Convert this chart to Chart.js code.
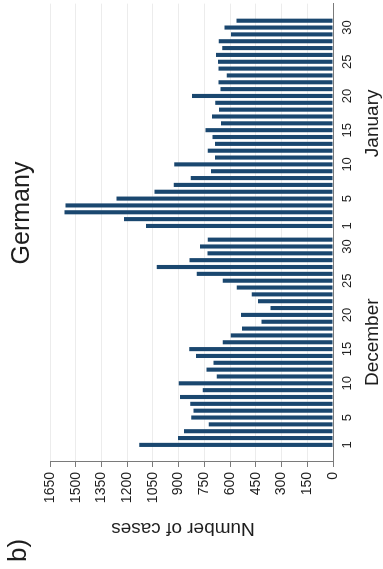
<!DOCTYPE html>
<html>
<head>
<meta charset="utf-8">
<script src="https://cdn.jsdelivr.net/npm/chart.js@4.4.1/dist/chart.umd.min.js"></script>
<style>
  html, body { margin: 0; padding: 0; background: #fff; overflow: hidden; }
  body { width: 383px; height: 569px; position: relative; }
  /* the chart is laid out landscape and turned a quarter turn counter-clockwise */
  #wrap {
    position: absolute; left: 0; top: 0;
    width: 569px; height: 383px;
    transform-origin: 0 0;
    transform: translate(0, 569px) rotate(-90deg);
    background: #fff;
  }
  canvas { display: block; }
</style>
</head>
<body>
<div id="wrap"><canvas id="c" width="569" height="383"></canvas></div>
<script>
// Daily case counts, Germany
const decemberDays = [1, 2, 3, 4, 5, 6, 7, 8, 9, 10, 11, 12, 13, 14, 15, 16,
  17, 18, 19, 20, 21, 22, 23, 24, 25, 26, 27, 28, 29, 30, 31];
const januaryDays = [1, 2, 3, 4, 5, 6, 7, 8, 9, 10, 11, 12, 13, 14, 15, 16,
  17, 18, 19, 20, 21, 22, 23, 24, 25, 26, 27, 28, 29, 30, 31];

const decemberCases = [1130, 904, 869, 725, 826, 814, 832, 892, 760, 900,
  678, 738, 697, 799, 838, 643, 596, 530, 417, 536,
  364, 438, 473, 561, 643, 795, 1027, 836, 732, 775, 730];
const januaryCases = [1091, 1219, 1566, 1560, 1263, 1040, 929, 830, 711, 925,
  688, 730, 688, 703, 744, 653, 705, 664, 686, 822,
  656, 668, 619, 668, 670, 682, 645, 666, 594, 633, 563];

const labelledDays = [1, 5, 10, 15, 20, 25, 30];
const valueTicks = [0, 150, 300, 450, 600, 750, 900, 1050, 1200, 1350, 1500, 1650];
const monthNames = ['December', 'January'];

const FONT = "'Liberation Sans', Arial, Helvetica, sans-serif";
const BAR = '#1a476f';
const AXIS = '#7a7a7a';
const TEXT = '#1e1e1e';

// category slots: outer gaps, December, a gap between months, January, outer gaps
const categories = ['', '']
  .concat(decemberDays.map(String), [''], januaryDays.map(String), ['', '']);
const values = [null, null]
  .concat(decemberCases, [null], januaryCases, [null, null]);

const decStart = 2;
const janStart = 2 + decemberDays.length + 1;

const annotations = {
  id: 'annotations',
  afterDraw(chart) {
    const ctx = chart.ctx;
    const x = chart.scales.x;
    ctx.save();
    ctx.fillStyle = TEXT;

    ctx.font = '25px ' + FONT;
    ctx.textAlign = 'center';
    ctx.textBaseline = 'alphabetic';
    ctx.fillText('Germany', 356, 29);

    ctx.font = '26px ' + FONT;
    ctx.textAlign = 'left';
    ctx.fillText('b)', 7, 26);

    ctx.font = '19px ' + FONT;
    ctx.textAlign = 'center';
    const decMid = x.getPixelForValue(decStart + (decemberDays.length - 1) / 2);
    const janMid = x.getPixelForValue(janStart + (januaryDays.length - 1) / 2);
    ctx.fillText(monthNames[0], decMid, 378);
    ctx.fillText(monthNames[1], janMid, 378);

    ctx.translate(46, 183);
    ctx.rotate(-Math.PI / 2);
    ctx.fillText('Number of cases', 0, 0);
    ctx.restore();
  }
};

Chart.defaults.font.family = FONT;
Chart.defaults.color = TEXT;

new Chart(document.getElementById('c'), {
  type: 'bar',
  data: {
    labels: categories,
    datasets: [{
      data: values,
      backgroundColor: BAR,
      borderWidth: 0,
      barPercentage: 0.6,
      categoryPercentage: 1.0
    }]
  },
  options: {
    responsive: false,
    animation: false,
    devicePixelRatio: 1,
    layout: { padding: { top: 50, right: 3, bottom: 0, left: 0 } },
    plugins: {
      legend: { display: false },
      tooltip: { enabled: false },
      title: { display: false }
    },
    scales: {
      x: {
        type: 'category',
        offset: true,
        grid: { display: true, drawOnChartArea: false, drawTicks: false },
        border: { display: true, color: AXIS, width: 1 },
        ticks: {
          autoSkip: false,
          maxRotation: 0,
          minRotation: 0,
          padding: 7,
          font: { size: 13 },
          color: TEXT,
          callback(value) {
            const lab = this.getLabelForValue(value);
            return lab !== '' && labelledDays.includes(Number(lab)) ? lab : '';
          }
        },
        afterFit(scale) { scale.height = 50; }
      },
      y: {
        min: valueTicks[0],
        max: valueTicks[valueTicks.length - 1],
        afterBuildTicks(scale) {
          scale.ticks = valueTicks.map(v => ({ value: v }));
        },
        grid: {
          color: '#ececec',
          lineWidth: 1,
          drawTicks: true,
          tickLength: 5,
          tickColor: AXIS
        },
        border: { display: true, color: AXIS, width: 1 },
        ticks: {
          padding: 5,
          font: { size: 14 },
          color: TEXT,
          callback(value) { return String(value); }
        },
        afterFit(scale) { scale.width = 107; }
      }
    }
  },
  plugins: [annotations]
});
</script>
</body>
</html>
